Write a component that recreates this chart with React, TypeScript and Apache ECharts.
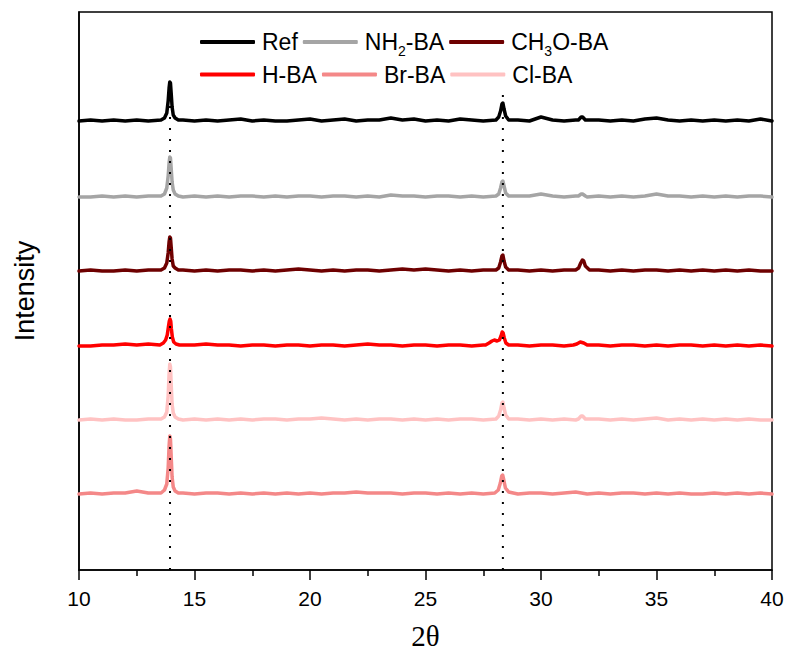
import React, { useEffect, useRef } from "react";
import * as echarts from "echarts";

// ---------- data (intensities in plot units above each trace's baseline) ----------
const xMin = 10;
const xMax = 40;
const xTickStep = 5;
const baseStep = 0.5; // baseline sampling step in 2θ (10, 10.5, ... 40)

const seriesNames = ["Ref", "NH2-BA", "CH3O-BA", "H-BA", "Cl-BA", "Br-BA"];
const seriesColors = ["#000000", "#A5A5A5", "#6E0000", "#FF0000", "#FFC2C2", "#F48888"];
const seriesOffsets = [449, 373, 299, 224, 150, 76];

const refBase = [
  0, 1, 0, 1, 0, 1, 0, 1, 1, 1,
  0, 1, 0, 1, 2, 0, 1, 0, 0, 1,
  2, 0, 1, 2, 0, 1, 1, 3, 1, 2,
  0, 1, 0, 2, 1, 0, 2, 1, 1, 0,
  4, 1, 0, 1, 1, 1, 0, 1, 0, 2,
  3, 1, 0, 1, 0, 1, 0, 1, 0, 2,
  0,
];
const refPeaks = [
  [[13.55, 1], [13.7, 3], [13.8, 8], [13.86, 20], [13.9, 33], [13.93, 39], [13.96, 38], [13.99, 28], [14.03, 14], [14.08, 6], [14.16, 3], [14.3, 1]],
  [[28.05, 1], [28.17, 4], [28.25, 10], [28.31, 17], [28.35, 18], [28.4, 12], [28.47, 5], [28.6, 1]],
  [[31.62, 1], [31.74, 4], [31.8, 4], [31.92, 1]],
];

const nh2Base = [
  0, 0, 1, 0, 1, 0, 1, 0, 1, 0,
  1, 0, 1, 0, 1, 1, 0, 1, 0, 1,
  1, 0, 1, 1, 0, 1, 0, 2, 1, 1,
  0, 1, 1, 0, 1, 0, 1, 0, 1, 1,
  3, 1, 0, 1, 0, 1, 0, 1, 0, 1,
  3, 1, 1, 0, 1, 0, 1, 0, 1, 1,
  0,
];
const nh2Peaks = [
  [[13.55, 1], [13.7, 3], [13.8, 9], [13.86, 21], [13.9, 34], [13.93, 40], [13.96, 39], [13.99, 29], [14.03, 15], [14.08, 7], [14.16, 3], [14.3, 1]],
  [[28.05, 1], [28.17, 3], [28.25, 9], [28.31, 15], [28.35, 16], [28.4, 11], [28.47, 4], [28.6, 1]],
  [[31.62, 1], [31.74, 3], [31.8, 3], [31.92, 1]],
];

const ch3oBase = [
  0, 1, 0, 0, 1, 0, 1, 1, 1, 1,
  0, 1, 0, 1, 1, 0, 1, 0, 1, 2,
  1, 0, 1, 0, 1, 1, 0, 1, 2, 1,
  2, 1, 0, 1, 0, 1, 1, 0, 1, 0,
  1, 0, 1, 0, 1, 1, 0, 1, 0, 1,
  1, 0, 1, 0, 1, 0, 1, 0, 1, 0,
  0,
];
const ch3oPeaks = [
  [[13.55, 1], [13.7, 3], [13.8, 8], [13.86, 18], [13.9, 29], [13.93, 34], [13.96, 33], [13.99, 24], [14.03, 12], [14.08, 5], [14.16, 3], [14.3, 1]],
  [[28.05, 1], [28.17, 3], [28.25, 9], [28.31, 15], [28.35, 16], [28.4, 10], [28.47, 4], [28.6, 1]],
  [[31.5, 1], [31.63, 3], [31.72, 8], [31.79, 11], [31.85, 10], [31.92, 5], [32.1, 1]],
];

const hBase = [
  0, 0, 1, 1, 2, 1, 2, 2, 3, 1,
  1, 2, 1, 1, 0, 1, 1, 0, 1, 1,
  0, 1, 1, 0, 1, 2, 1, 1, 0, 1,
  1, 0, 1, 1, 0, 1, 2, 0, 1, 0,
  1, 1, 0, 1, 2, 1, 0, 1, 1, 0,
  1, 0, 1, 1, 0, 1, 0, 1, 0, 1,
  0,
];
const hPeaks = [
  [[13.5, 1], [13.65, 3], [13.75, 6], [13.82, 11], [13.87, 19], [13.91, 25], [13.94, 27], [13.97, 25], [14.0, 17], [14.04, 9], [14.1, 4], [14.2, 2], [14.35, 1]],
  [[27.6, 1], [27.75, 3], [27.88, 5], [27.98, 6], [28.1, 5], [28.2, 6], [28.27, 10], [28.32, 14], [28.36, 13], [28.41, 8], [28.48, 3], [28.6, 1]],
  [[31.4, 1], [31.55, 2], [31.7, 4], [31.85, 3], [32.0, 1]],
];

const clBase = [
  0, 1, 0, 1, 0, 0, 1, 1, 1, 0,
  1, 0, 1, 0, 1, 0, 1, 1, 0, 1,
  1, 2, 1, 0, 1, 0, 1, 1, 0, 1,
  0, 1, 0, 1, 1, 0, 1, 0, 1, 0,
  1, 0, 1, 0, 1, 1, 0, 1, 0, 1,
  2, 0, 1, 0, 1, 0, 1, 0, 1, 0,
  0,
];
const clPeaks = [
  [[13.55, 1], [13.7, 3], [13.8, 8], [13.86, 24], [13.9, 46], [13.93, 56], [13.96, 53], [13.99, 36], [14.03, 16], [14.08, 7], [14.16, 3], [14.3, 1]],
  [[28.05, 1], [28.17, 4], [28.25, 10], [28.31, 17], [28.35, 18], [28.4, 12], [28.47, 5], [28.6, 1]],
  [[31.62, 1], [31.74, 4], [31.8, 4], [31.92, 1]],
];

const brBase = [
  0, 1, 0, 1, 1, 3, 1, 1, 2, 1,
  0, 1, 1, 0, 1, 0, 1, 0, 1, 0,
  1, 0, 1, 1, 2, 1, 1, 1, 0, 1,
  1, 0, 1, 0, 1, 0, 1, 1, 0, 1,
  1, 0, 1, 2, 0, 1, 0, 1, 1, 0,
  1, 0, 1, 0, 0, 1, 0, 1, 0, 1,
  0,
];
const brPeaks = [
  [[13.55, 1], [13.7, 4], [13.8, 10], [13.86, 26], [13.9, 48], [13.93, 58], [13.96, 55], [13.99, 38], [14.03, 17], [14.08, 7], [14.16, 3], [14.3, 1]],
  [[28.0, 1], [28.15, 4], [28.24, 11], [28.3, 18], [28.34, 19], [28.39, 14], [28.46, 6], [28.6, 2]],
];

const seriesBases = [refBase, nh2Base, ch3oBase, hBase, clBase, brBase];
const seriesPeaks = [refPeaks, nh2Peaks, ch3oPeaks, hPeaks, clPeaks, brPeaks];

const refLines = [13.94, 28.35]; // dotted reference positions
const refLineTop = 479;

const legendRow1 = ["Ref", "NH2-BA", "CH3O-BA"];
const legendRow2 = ["H-BA", "Br-BA", "Cl-BA"];

// ---------- helpers ----------
function buildSeries(base: number[], peaks: number[][][], offset: number) {
  const ranges = peaks.map((p) => [p[0][0], p[p.length - 1][0]]);
  const pts: number[][] = [];
  base.forEach((v, i) => {
    const x = xMin + baseStep * i;
    if (!ranges.some(([a, b]) => x >= a - 0.05 && x <= b + 0.05)) pts.push([x, offset + v]);
  });
  peaks.forEach((p) => p.forEach(([x, y]) => pts.push([x, offset + y])));
  pts.sort((a, b) => a[0] - b[0]);
  return pts;
}

function legendLabel(name: string) {
  if (name === "NH2-BA") return "{m|NH}{s|2}{m|-BA}";
  if (name === "CH3O-BA") return "{m|CH}{s|3}{m|O-BA}";
  return "{m|" + name + "}";
}

const legendRich = {
  m: { fontSize: 23, lineHeight: 24, fontFamily: "Liberation Sans", color: "#000" },
  s: { fontSize: 14, lineHeight: 14, padding: [18, 0, 0, 0], fontFamily: "Liberation Sans", color: "#000" },
};

export default function App() {
  const ref = useRef<HTMLDivElement>(null);

  useEffect(() => {
    if (!ref.current) return;
    const chart = echarts.init(ref.current, undefined, { renderer: "svg" });

    const lineSeries: any[] = seriesNames.map((name, k) => ({
      name,
      type: "line",
      data: buildSeries(seriesBases[k], seriesPeaks[k], seriesOffsets[k]),
      showSymbol: false,
      symbol: "none",
      lineStyle: { width: 3.5, color: seriesColors[k], join: "round", cap: "round" },
      itemStyle: { color: seriesColors[k] },
      z: 2,
    }));

    refLines.forEach((x, i) => {
      lineSeries.push({
        name: "dotted" + i,
        type: "line",
        data: [
          [x, 0],
          [x, refLineTop],
        ],
        showSymbol: false,
        symbol: "none",
        silent: true,
        lineStyle: { width: 2, color: "#000", type: [2, 9] },
        z: 5,
      });
    });

    const legendCommon = {
      left: 200,
      orient: "horizontal",
      icon: "roundRect",
      itemWidth: 55,
      itemHeight: 4,
      itemGap: 5,
      padding: 0,
      formatter: legendLabel,
      textStyle: { rich: legendRich, padding: [0, 0, 0, 2] },
      selectedMode: false,
    };

    chart.setOption({
      animation: false,
      backgroundColor: "#ffffff",
      textStyle: { fontFamily: "Liberation Sans" },
      grid: {
        left: 79,
        right: 18,
        top: 12,
        bottom: 89,
        show: true,
        borderColor: "#000",
        borderWidth: 1.5,
        backgroundColor: "transparent",
      },
      legend: [
        { ...legendCommon, top: 26, data: legendRow1 },
        { ...legendCommon, top: 63, data: legendRow2 },
      ],
      xAxis: {
        type: "value",
        min: xMin,
        max: xMax,
        interval: xTickStep,
        name: "2θ",
        nameLocation: "middle",
        nameGap: 51,
        nameTextStyle: { fontFamily: "Liberation Serif", fontSize: 29, color: "#000" },
        axisLine: { show: true, onZero: false, lineStyle: { color: "#000", width: 1.5 } },
        axisTick: { show: true, inside: false, length: 10, lineStyle: { color: "#000", width: 1.5 } },
        minorTick: { show: true, splitNumber: 2, length: 6, lineStyle: { color: "#000", width: 1.5 } },
        axisLabel: { fontSize: 21, color: "#000", margin: 18, fontFamily: "Liberation Sans" },
        splitLine: { show: false },
      },
      yAxis: {
        type: "value",
        min: 0,
        max: 558,
        name: "Intensity",
        nameLocation: "middle",
        nameRotate: 90,
        nameGap: 41,
        nameTextStyle: { fontFamily: "Liberation Sans", fontSize: 27, color: "#000" },
        axisLine: { show: true, lineStyle: { color: "#000", width: 1.5 } },
        axisTick: { show: false },
        axisLabel: { show: false },
        splitLine: { show: false },
      },
      series: lineSeries,
    });

    return () => chart.dispose();
  }, []);

  return (
    <div
      ref={ref}
      style={{ position: "absolute", left: 0, top: 0, width: 790, height: 659, background: "#fff" }}
    />
  );
}
